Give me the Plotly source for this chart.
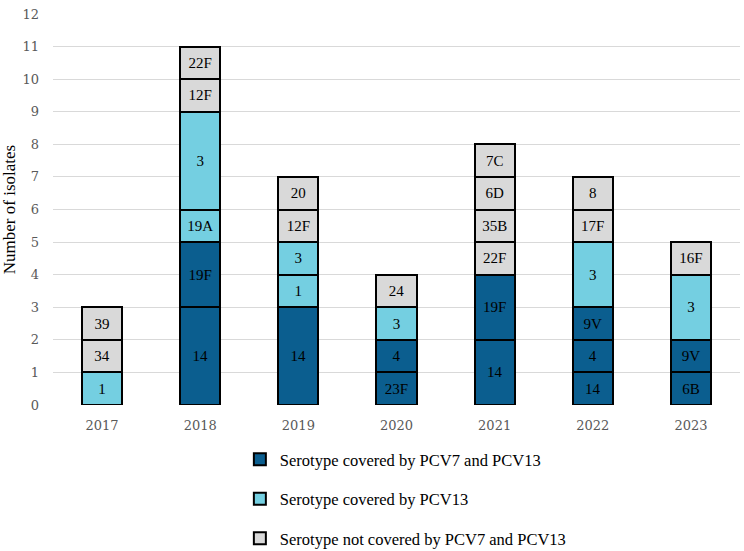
import plotly.graph_objects as go

# ---- data ----
years = ["2017", "2018", "2019", "2020", "2021", "2022", "2023"]

seg_year = ["2017", "2017", "2017",
            "2018", "2018", "2018", "2018", "2018", "2018",
            "2019", "2019", "2019", "2019", "2019",
            "2020", "2020", "2020", "2020",
            "2021", "2021", "2021", "2021", "2021", "2021",
            "2022", "2022", "2022", "2022", "2022", "2022",
            "2023", "2023", "2023", "2023"]
seg_serotype = ["1", "34", "39",
                "14", "19F", "19A", "3", "12F", "22F",
                "14", "1", "3", "12F", "20",
                "23F", "4", "3", "24",
                "14", "19F", "22F", "35B", "6D", "7C",
                "14", "4", "9V", "3", "17F", "8",
                "6B", "9V", "3", "16F"]
seg_count = [1, 1, 1,
             3, 2, 1, 3, 1, 1,
             3, 1, 1, 1, 1,
             1, 1, 1, 1,
             2, 2, 1, 1, 1, 1,
             1, 1, 1, 2, 1, 1,
             1, 1, 2, 1]
seg_group = ["C13", "NOT", "NOT",
             "BOTH", "BOTH", "C13", "C13", "NOT", "NOT",
             "BOTH", "C13", "C13", "NOT", "NOT",
             "BOTH", "BOTH", "C13", "NOT",
             "BOTH", "BOTH", "NOT", "NOT", "NOT", "NOT",
             "BOTH", "BOTH", "BOTH", "C13", "NOT", "NOT",
             "BOTH", "BOTH", "C13", "NOT"]

group_keys = ["BOTH", "C13", "NOT"]
group_names = ["Serotype covered by PCV7 and PCV13",
               "Serotype covered by PCV13",
               "Serotype not covered by PCV7 and PCV13"]
group_colors = ["#0B5E8F", "#74CFE1", "#D9D9D9"]

SERIF = "Liberation Serif"
TICKSERIF = "DejaVu Serif"

fig = go.Figure()
shown = set()
for yr, sero, cnt, grp in zip(seg_year, seg_serotype, seg_count, seg_group):
    gi = group_keys.index(grp)
    fig.add_trace(go.Bar(
        x=[yr], y=[cnt], text=[sero],
        name=group_names[gi],
        legendgroup=grp,
        legendrank=gi + 1,
        showlegend=grp not in shown,
        marker=dict(color=group_colors[gi], line=dict(color="black", width=2)),
        textposition="inside", insidetextanchor="middle", textangle=0,
        textfont=dict(family=SERIF, size=15, color="black"),
        hoverinfo="skip",
    ))
    shown.add(grp)

fig.update_layout(
    width=744, height=551,
    margin=dict(l=53, r=4, t=14, b=146, autoexpand=False),
    barmode="stack", bargap=0.59,
    plot_bgcolor="white", paper_bgcolor="white",
    showlegend=True,
    legend=dict(
        x=0.272, xanchor="left", y=-0.095, yanchor="top",
        font=dict(family=SERIF, size=16.5, color="black"),
        tracegroupgap=15, traceorder="grouped",
        bgcolor="rgba(0,0,0,0)",
    ),
    xaxis=dict(
        categoryorder="array", categoryarray=years,
        showgrid=False, showline=False, zeroline=False,
        tickfont=dict(family=TICKSERIF, size=13, color="#595959"),
        ticklabelstandoff=11,
    ),
    yaxis=dict(
        range=[0, 12], dtick=1, tick0=0,
        showgrid=True, gridcolor="#D9D9D9", gridwidth=1,
        zeroline=False, showline=False,
        tickfont=dict(family=TICKSERIF, size=13, color="#595959"),
        ticklabelstandoff=13,
        title=dict(text="Number of isolates", standoff=8,
                   font=dict(family=SERIF, size=17, color="black")),
    ),
)

fig.write_html("out.html")
